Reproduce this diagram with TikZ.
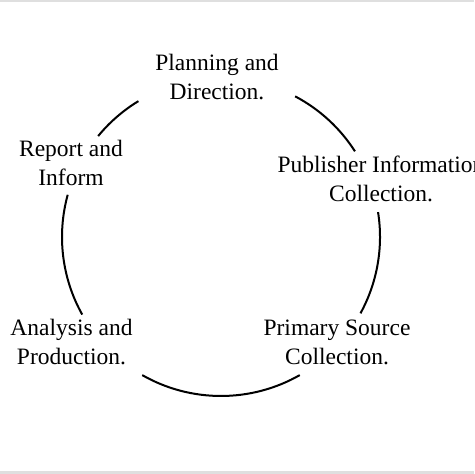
\documentclass[tikz,border=0pt]{standalone}
\usepackage{fontspec}
\setmainfont{Liberation Serif}
\begin{document}
\begin{tikzpicture}[x=0.5pt,y=0.5pt,
  lbl/.style={align=center,inner sep=0pt,font=\fontsize{11.75}{14.5}\selectfont},
  cyc/.style={line width=1pt,black}]
\useasboundingbox (0,0) rectangle (474,474);
\fill[white] (0,0) rectangle (474,474);
\fill[gray!25] (0,471.5) rectangle (474,474);
\fill[gray!25] (0,0) rectangle (474,2.5);
\clip (0,0) rectangle (474,474);
\coordinate (C) at (221,237);
\node[lbl] (plan) at (217,474-77) {Planning and\\Direction.};
\node[lbl] (pub) at (381,474-178.5) {Publisher Information\\Collection.};
\node[lbl] (prim) at (337,474-342.5) {Primary Source\\Collection.};
\node[lbl] (ana) at (71.5,474-342.5) {Analysis and\\Production.};
\node[lbl] (rep) at (71,474-162.5) {Report and\\Inform};
\draw[cyc] (C) ++(32.6:79.5pt) arc[start angle=32.6,end angle=62.2,radius=79.5pt];
\draw[cyc] (C) ++(-28.7:79.5pt) arc[start angle=-28.7,end angle=9,radius=79.5pt];
\draw[cyc] (C) ++(-119.7:79.5pt) arc[start angle=-119.7,end angle=-60.3,radius=79.5pt];
\draw[cyc] (C) ++(164.6:79.5pt) arc[start angle=164.6,end angle=209.2,radius=79.5pt];
\draw[cyc] (C) ++(121.3:79.5pt) arc[start angle=121.3,end angle=140.6,radius=79.5pt];
\end{tikzpicture}
\end{document}
